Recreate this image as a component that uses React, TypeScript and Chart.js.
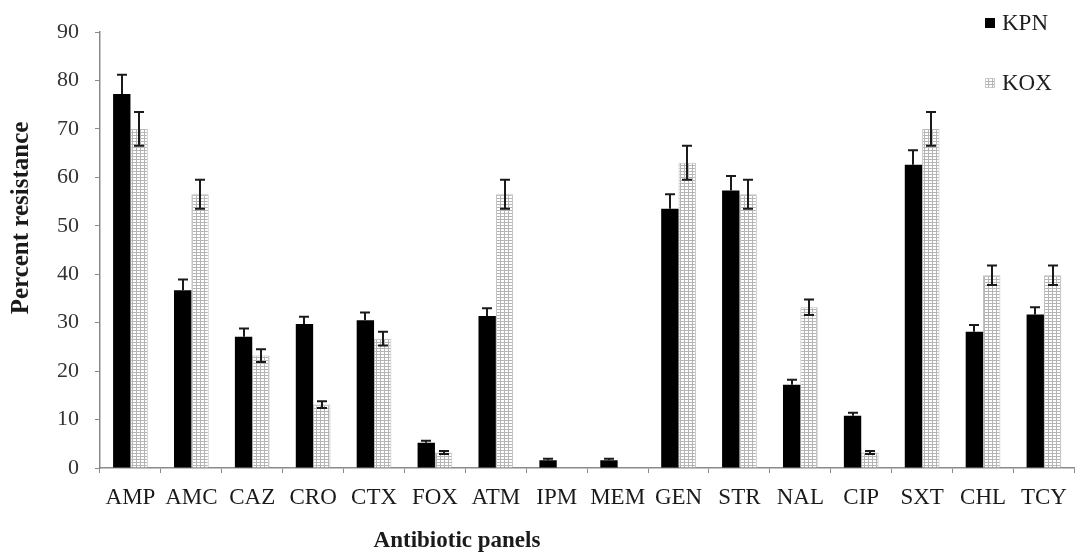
import React, { useEffect, useRef } from "react";
import { Chart, registerables } from "chart.js";

Chart.register(...registerables);

const categories = ["AMP", "AMC", "CAZ", "CRO", "CTX", "FOX", "ATM", "IPM", "MEM", "GEN", "STR", "NAL", "CIP", "SXT", "CHL", "TCY"];
const kpnValues = [77.2, 36.7, 27.1, 29.7, 30.5, 5.2, 31.4, 1.6, 1.6, 53.5, 57.3, 17.2, 10.8, 62.6, 28.1, 31.7];
const kpnErrors = [4.0, 2.2, 1.7, 1.5, 1.6, 0.4, 1.6, 0.3, 0.3, 3.0, 3.0, 1.0, 0.6, 3.0, 1.4, 1.5];
const koxValues = [70.0, 56.5, 23.2, 13.1, 26.7, 3.2, 56.5, 0, 0, 63.0, 56.5, 33.2, 3.2, 70.0, 39.8, 39.8];
const koxErrors = [3.5, 3.0, 1.3, 0.7, 1.4, 0.3, 3.0, 0, 0, 3.5, 3.0, 1.6, 0.3, 3.5, 2.0, 2.0];
const seriesNames = ["KPN", "KOX"];
const yTitle = "Percent resistance";
const xTitle = "Antibiotic panels";
const yMin = 0;
const yMax = 90;
const yStep = 10;

const SERIF = "'Liberation Serif', 'Times New Roman', serif";

function makePattern(): CanvasPattern | string {
  const c = document.createElement("canvas");
  c.width = 4;
  c.height = 3;
  const g = c.getContext("2d");
  if (!g) return "#ddd";
  g.fillStyle = "#ffffff";
  g.fillRect(0, 0, 4, 3);
  g.fillStyle = "#b4b4b4";
  g.fillRect(0, 0, 4, 1);
  g.fillRect(0, 0, 1, 3);
  const p = g.createPattern(c, "repeat");
  return p || "#ddd";
}

const errorBarPlugin = {
  id: "errorBars",
  afterDatasetsDraw(chart: any) {
    const ctx = chart.ctx;
    const yScale = chart.scales.y;
    const errs = [kpnErrors, koxErrors];
    chart.data.datasets.forEach((ds: any, di: number) => {
      const meta = chart.getDatasetMeta(di);
      meta.data.forEach((bar: any, i: number) => {
        const v = ds.data[i];
        const e = errs[di][i];
        if (!e || !v) return;
        const x = Math.round(bar.x);
        const yTop = yScale.getPixelForValue(v + e);
        const yMid = yScale.getPixelForValue(v);
        const yBot = yScale.getPixelForValue(v - e);
        ctx.save();
        ctx.strokeStyle = "#1a1a1a";
        ctx.lineWidth = 2;
        ctx.beginPath();
        ctx.moveTo(x, yTop);
        ctx.moveTo(x - 5, yTop);
        ctx.lineTo(x + 5, yTop);
        ctx.moveTo(x, yTop);
        if (di === 0) {
          // lower half lies on the solid black bar and is not visible
          ctx.lineTo(x, yMid);
        } else {
          ctx.lineTo(x, yBot);
          ctx.moveTo(x - 5, yBot);
          ctx.lineTo(x + 5, yBot);
        }
        ctx.stroke();
        ctx.restore();
      });
    });
  },
};

const decorPlugin = {
  id: "decor",
  afterDraw(chart: any) {
    const ctx = chart.ctx;
    const area = chart.chartArea;
    ctx.save();
    ctx.fillStyle = "#1a1a1a";
    ctx.font = `bold 25px ${SERIF}`;
    ctx.textAlign = "center";
    ctx.textBaseline = "middle";
    ctx.translate(22, 218);
    ctx.rotate(-Math.PI / 2);
    ctx.fillText(yTitle, 0, 0);
    ctx.restore();

    ctx.save();
    ctx.fillStyle = "#1a1a1a";
    ctx.font = `bold 23px ${SERIF}`;
    ctx.textAlign = "center";
    ctx.textBaseline = "middle";
    ctx.fillText(xTitle, 457, area.bottom + 73);
    ctx.restore();

    const ds = chart.data.datasets;
    const rows = [23, 83];
    ds.forEach((d: any, i: number) => {
      ctx.save();
      const y = rows[i];
      ctx.fillStyle = d.backgroundColor;
      ctx.fillRect(985, y - 5, 10, 10);
      if (i === 1) {
        ctx.strokeStyle = "#c8c8c8";
        ctx.lineWidth = 1;
        ctx.strokeRect(985.5, y - 4.5, 9, 9);
      }
      ctx.fillStyle = "#1e1e1e";
      ctx.font = `23px ${SERIF}`;
      ctx.textAlign = "left";
      ctx.textBaseline = "middle";
      ctx.fillText(d.label, 1002, y + 1);
      ctx.restore();
    });
  },
};

export default function App() {
  const ref = useRef<HTMLCanvasElement>(null);
  useEffect(() => {
    if (!ref.current) return;
    const pattern = makePattern();
    const chart = new Chart(ref.current, {
      type: "bar",
      data: {
        labels: categories,
        datasets: [
          {
            label: seriesNames[0],
            data: kpnValues,
            backgroundColor: "#000000",
            borderColor: "#000000",
            borderWidth: 0,
            categoryPercentage: 0.57,
            barPercentage: 1.0,
          },
          {
            label: seriesNames[1],
            data: koxValues,
            backgroundColor: pattern as any,
            borderColor: "#bdbdbd",
            borderWidth: 1,
            categoryPercentage: 0.57,
            barPercentage: 1.0,
          },
        ],
      },
      options: {
        responsive: false,
        animation: false,
        layout: { padding: { top: 32, right: 2, left: 0, bottom: 0 } },
        plugins: {
          legend: { display: false },
          tooltip: { enabled: false },
          title: { display: false },
        },
        scales: {
          x: {
            afterFit: (s: any) => {
              s.height = 86;
            },
            grid: {
              display: true,
              drawOnChartArea: false,
              drawTicks: true,
              tickLength: 5,
              color: "#8a8a8a",
              offset: true,
            },
            border: { display: true, color: "#8a8a8a", width: 1.5 },
            ticks: {
              color: "#1a1a1a",
              font: { family: SERIF, size: 23 },
              padding: 11,
              autoSkip: false,
              maxRotation: 0,
            },
          },
          y: {
            min: yMin,
            max: yMax,
            afterFit: (s: any) => {
              s.width = 100;
            },
            grid: {
              display: true,
              drawOnChartArea: false,
              drawTicks: true,
              tickLength: 5,
              color: "#8a8a8a",
            },
            border: { display: true, color: "#8a8a8a", width: 1.5 },
            ticks: {
              stepSize: yStep,
              color: "#333333",
              font: { family: SERIF, size: 22 },
              padding: 16,
            },
          },
        },
      },
      plugins: [errorBarPlugin, decorPlugin],
    });
    return () => chart.destroy();
  }, []);
  return (
    <div style={{ position: "fixed", left: 0, top: 0, width: 1078, height: 554, background: "#fff" }}>
      <canvas ref={ref} width={1078} height={554} style={{ display: "block" }} />
    </div>
  );
}
